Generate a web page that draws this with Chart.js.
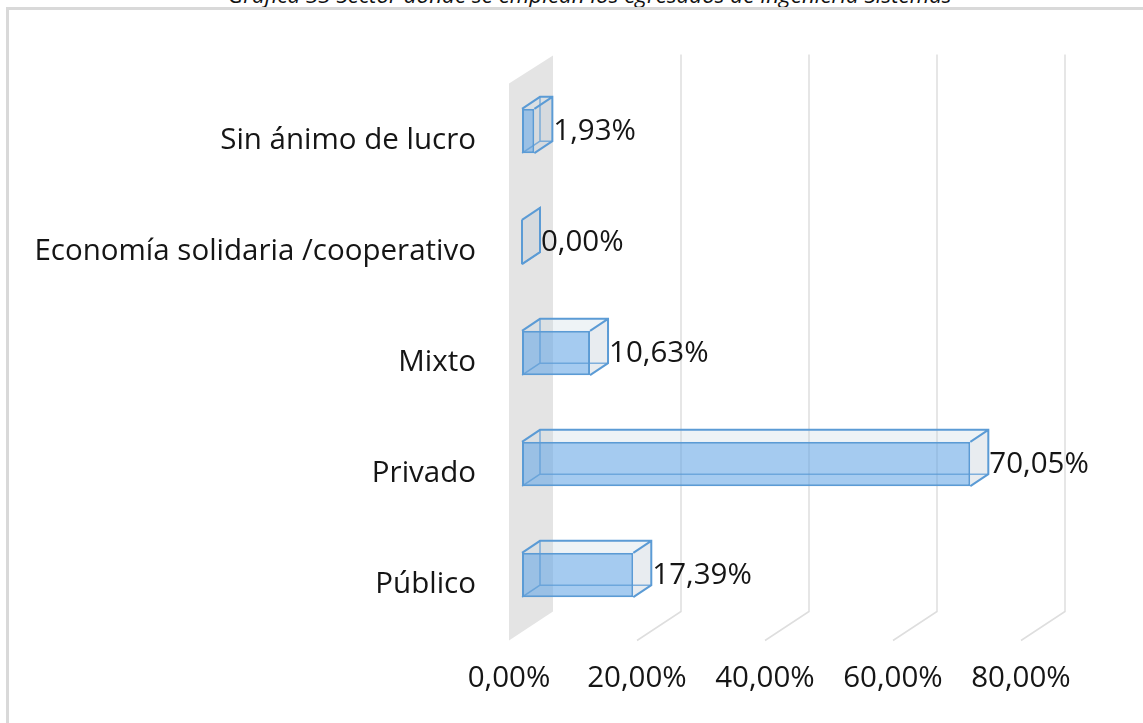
<!DOCTYPE html>
<html>
<head>
<meta charset="utf-8">
<script src="https://cdn.jsdelivr.net/npm/chart.js@4/dist/chart.umd.min.js"></script>
<style>
    body { margin: 0; background: #fff; overflow: hidden; }
    #wrap { position: relative; width: 1143px; height: 723px; }
    #frame { position: absolute; left: 6px; top: 7px; right: -10px; bottom: -10px;
             border-top: 3px solid #D9D9D9; border-left: 3px solid #D9D9D9; }
    #title { position: absolute; left: 228px; top: -16px; white-space: nowrap;
             font: italic 22.4px "Open Sans", sans-serif; line-height: 22.4px; color: #111; }
    canvas { position: absolute; left: 0; top: 0; }
</style>
</head>
<body>
<div id="wrap">
    <div id="title">Gráfica 33 Sector donde se emplean los egresados de Ingeniería Sistemas</div>
    <div id="frame"></div>
    <canvas id="chart" width="1143" height="723"></canvas>
</div>
<script>
const categories = ['Sin ánimo de lucro', 'Economía solidaria /cooperativo', 'Mixto', 'Privado', 'Público'];
const percentages = [1.93, 0.00, 10.63, 70.05, 17.39];
const axisTicks = [0, 20, 40, 60, 80];

const FONT = '"Open Sans", sans-serif';
const TEXT = '#151515';
const EDGE = '#5B9BD5';
// depth offsets for the fake 3D look
const BAR_DEPTH = { x: 18, y: -12 };
const FLOOR_FRONT = { x: -13, y: 10 };
const WALL_BACK = { x: 31, y: -20 };

function fmt(v) {
    return v.toFixed(2).replace('.', ',') + '%';
}

const backdrop = {
    id: 'backdrop',
    beforeDatasetsDraw(chart) {
        const ctx = chart.ctx;
        const xs = chart.scales.x;
        const area = chart.chartArea;
        const x0 = xs.getPixelForValue(0);
        ctx.save();
        // side wall at 0
        ctx.fillStyle = '#E4E4E4';
        ctx.beginPath();
        ctx.moveTo(x0 + FLOOR_FRONT.x, area.top + 8);
        ctx.lineTo(x0 + WALL_BACK.x, area.top + WALL_BACK.y);
        ctx.lineTo(x0 + WALL_BACK.x, area.bottom - 19);
        ctx.lineTo(x0 + FLOOR_FRONT.x, area.bottom + FLOOR_FRONT.y);
        ctx.closePath();
        ctx.fill();
        // gridlines on back wall and floor
        ctx.strokeStyle = '#DEDEDE';
        ctx.lineWidth = 1.5;
        axisTicks.slice(1).forEach(v => {
            const px = xs.getPixelForValue(v);
            ctx.beginPath();
            ctx.moveTo(px + WALL_BACK.x, area.top - 21);
            ctx.lineTo(px + WALL_BACK.x, area.bottom - 19);
            ctx.lineTo(px + FLOOR_FRONT.x, area.bottom + FLOOR_FRONT.y);
            ctx.stroke();
        });
        ctx.restore();
    }
};

const boxes = {
    id: 'boxes',
    afterDatasetsDraw(chart) {
        const ctx = chart.ctx;
        const meta = chart.getDatasetMeta(0);
        const dx = BAR_DEPTH.x, dy = BAR_DEPTH.y;
        ctx.save();
        meta.data.forEach((bar, i) => {
            const p = bar.getProps(['x', 'y', 'base', 'height'], true);
            const l = p.base, r = p.x;
            const t = p.y - p.height / 2, b = p.y + p.height / 2;
            // top face
            ctx.fillStyle = 'rgba(200,215,225,0.3)';
            ctx.beginPath();
            ctx.moveTo(l, t); ctx.lineTo(l + dx, t + dy); ctx.lineTo(r + dx, t + dy); ctx.lineTo(r, t);
            ctx.closePath(); ctx.fill();
            // right face
            ctx.fillStyle = 'rgba(190,200,212,0.35)';
            ctx.beginPath();
            ctx.moveTo(r, t); ctx.lineTo(r + dx, t + dy); ctx.lineTo(r + dx, b + dy); ctx.lineTo(r, b);
            ctx.closePath(); ctx.fill();
            // hidden edges seen through the bar
            ctx.strokeStyle = 'rgba(91,155,213,0.75)';
            ctx.lineWidth = 1.5;
            ctx.beginPath();
            ctx.moveTo(l + dx, t + dy); ctx.lineTo(l + dx, b + dy); ctx.lineTo(r + dx, b + dy);
            ctx.moveTo(l, b); ctx.lineTo(l + dx, b + dy);
            ctx.stroke();
            // visible edges
            ctx.strokeStyle = EDGE;
            ctx.lineWidth = 2;
            ctx.beginPath();
            ctx.moveTo(l, t); ctx.lineTo(l + dx, t + dy); ctx.lineTo(r + dx, t + dy);
            ctx.lineTo(r + dx, b + dy); ctx.lineTo(r, b);
            ctx.moveTo(r, t); ctx.lineTo(r + dx, t + dy);
            if (r - l < 1) { ctx.moveTo(l, t); ctx.lineTo(l, b); }
            ctx.stroke();
            // value label
            ctx.fillStyle = TEXT;
            ctx.font = '29.5px ' + FONT;
            ctx.textAlign = 'left';
            ctx.textBaseline = 'middle';
            ctx.fillText(fmt(percentages[i]), r + dx + 1, p.y + 1);
        });
        ctx.restore();
    }
};

new Chart(document.getElementById('chart'), {
    type: 'bar',
    data: {
        labels: categories,
        datasets: [{
            data: percentages,
            backgroundColor: 'rgba(100,165,230,0.58)',
            borderColor: EDGE,
            borderWidth: 2,
            borderSkipped: false,
            categoryPercentage: 1,
            barPercentage: 0.4
        }]
    },
    options: {
        indexAxis: 'y',
        responsive: false,
        animation: false,
        layout: { padding: { top: 75.5, right: 109, left: 0, bottom: 0 } },
        plugins: { legend: { display: false }, tooltip: { enabled: false } },
        scales: {
            x: {
                min: 0, max: 80,
                afterBuildTicks(scale) { scale.ticks = axisTicks.map(v => ({ value: v })); },
                afterFit(scale) { scale.height = 92.5; },
                grid: { display: false, drawTicks: false },
                border: { display: false },
                ticks: {
                    padding: 30,
                    labelOffset: -13,
                    color: TEXT,
                    font: { family: FONT, size: 29.5 },
                    maxRotation: 0,
                    callback: v => fmt(v)
                }
            },
            y: {
                afterFit(scale) { scale.width = 522; },
                grid: { display: false, drawTicks: false },
                border: { display: false },
                ticks: {
                    padding: 46,
                    labelOffset: 10,
                    color: TEXT,
                    font: { family: FONT, size: 29.5 }
                }
            }
        }
    },
    plugins: [backdrop, boxes]
});
</script>
</body>
</html>
